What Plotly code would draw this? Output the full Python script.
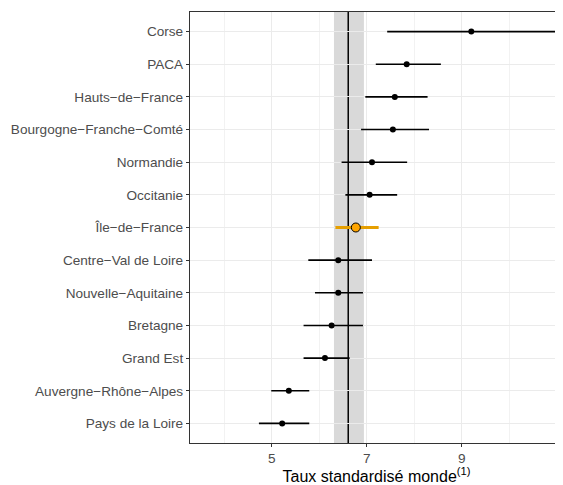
import plotly.graph_objects as go

regions = ["Corse", "PACA", "Hauts\u2212de\u2212France", "Bourgogne\u2212Franche\u2212Comté",
           "Normandie", "Occitanie", "Île\u2212de\u2212France", "Centre\u2212Val de Loire",
           "Nouvelle\u2212Aquitaine", "Bretagne", "Grand Est", "Auvergne\u2212Rhône\u2212Alpes",
           "Pays de la Loire"]
taux = [9.20, 7.84, 7.59, 7.55, 7.11, 7.06, 6.77, 6.40, 6.40, 6.26, 6.12, 5.36, 5.22]
ic_bas = [7.43, 7.19, 6.97, 6.88, 6.47, 6.55, 6.34, 5.77, 5.91, 5.67, 5.67, 4.99, 4.73]
ic_haut = [11.6, 8.56, 8.28, 8.31, 7.85, 7.64, 7.25, 7.11, 6.92, 6.92, 6.64, 5.79, 5.79]

france = 6.61
france_bas = 6.31
france_haut = 6.94

highlight = "Île\u2212de\u2212France"

font = "Liberation Sans, Arial, sans-serif"

fig = go.Figure()

others = [i for i, r in enumerate(regions) if r != highlight]
hi = [i for i, r in enumerate(regions) if r == highlight]

fig.add_trace(go.Scatter(
    x=[taux[i] for i in others], y=[regions[i] for i in others],
    mode="markers",
    marker=dict(color="black", size=6),
    error_x=dict(type="data", symmetric=False,
                 array=[ic_haut[i] - taux[i] for i in others],
                 arrayminus=[taux[i] - ic_bas[i] for i in others],
                 width=0, thickness=1.6, color="black"),
    showlegend=False))

fig.add_trace(go.Scatter(
    x=[taux[i] for i in hi], y=[regions[i] for i in hi],
    mode="markers",
    marker=dict(color="#FFA500", size=9, line=dict(color="black", width=1)),
    error_x=dict(type="data", symmetric=False,
                 array=[ic_haut[i] - taux[i] for i in hi],
                 arrayminus=[taux[i] - ic_bas[i] for i in hi],
                 width=0, thickness=3, color="#E69F00"),
    showlegend=False))

fig.add_vrect(x0=france_bas, x1=france_haut, fillcolor="#D9D9D9", opacity=1, line_width=0, layer="below")
fig.add_vline(x=france, line=dict(color="black", width=1.5), layer="below")

# the page has an 8px body margin, so the figure is a bit smaller than the window
fig.update_layout(
    width=555, height=477,
    margin=dict(l=182, r=0, t=4, b=42),
    plot_bgcolor="white", paper_bgcolor="white",
    font=dict(family=font, color="#4D4D4D", size=13.6),
    showlegend=False,
)
fig.update_xaxes(
    range=[3.28, 11.13],
    tickvals=[5, 7, 9, 11],
    showgrid=True, gridcolor="#EBEBEB", gridwidth=1,
    minor=dict(tickvals=[4, 6, 8, 10], showgrid=True, gridcolor="#F2F2F2", gridwidth=0.7),
    ticks="outside", ticklen=3, tickcolor="#333333",
    tickfont=dict(size=13.6, color="#4D4D4D"),
    showline=True, linecolor="#333333", linewidth=1.2, mirror=True,
    zeroline=False, automargin=False,
    title=dict(text="Taux standardisé monde<sup>(1)</sup>", font=dict(size=16, color="black"), standoff=10),
)
fig.update_yaxes(
    categoryorder="array", categoryarray=regions[::-1],
    range=[-0.6, 12.6],
    showgrid=True, gridcolor="#EBEBEB", gridwidth=1,
    ticks="outside", ticklen=3, tickcolor="#333333",
    tickfont=dict(size=13.6, color="#4D4D4D"),
    showline=True, linecolor="#333333", linewidth=1.2, mirror=True,
    zeroline=False, automargin=False,
)

fig.write_html("out.html")
